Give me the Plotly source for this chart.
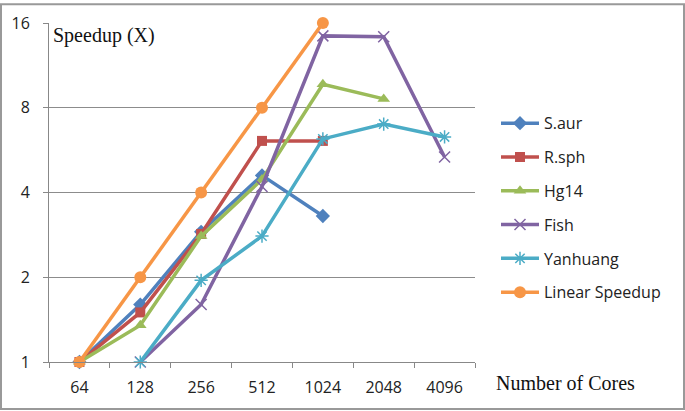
import math
import plotly.graph_objects as go

cores = ["64", "128", "256", "512", "1024", "2048", "4096"]
s_aur = [1, 1.6, 2.9, 4.6, 3.3, None, None]
r_sph = [1, 1.5, 2.85, 6.1, 6.1, None, None]
hg14 = [1, 1.35, 2.8, 4.45, 9.7, 8.6, None]
fish = [None, 1, 1.6, 4.2, 14.4, 14.3, 5.35]
yanhuang = [None, 1, 1.95, 2.8, 6.2, 7.0, 6.3]
linear = [1, 2, 4, 8, 16, None, None]
y_ticks = [1, 2, 4, 8, 16]

series = [
    ("S.aur", s_aur, "#4F81BD", "diamond", 11, 0),
    ("R.sph", r_sph, "#C0504D", "square", 10, 0),
    ("Hg14", hg14, "#9BBB59", "triangle-up", 11, 0),
    ("Fish", fish, "#8064A2", "x-thin-open", 11, 1.5),
    ("Yanhuang", yanhuang, "#4BACC6", "asterisk-open", 11, 1.5),
    ("Linear Speedup", linear, "#F79646", "circle", 12, 0),
]

fig = go.Figure()
for i, (name, vals, col, sym, sz, lw) in enumerate(series):
    fig.add_trace(go.Scatter(
        x=cores, y=vals, name=name, mode="lines+markers",
        line=dict(color=col, width=3.5),
        marker=dict(symbol=sym, size=sz, color=col, line=dict(color=col, width=lw)),
        cliponaxis=False, legendgroup=name,
    ))

W, H = 685, 411
ml, mr, mt, mb = 49, 210, 20, 49
pw, ph = W - ml - mr, H - mt - mb

def px(x):
    return (x - ml) / pw

def py(y):
    return 1 - (y - mt) / ph

serif = "Liberation Serif, Times New Roman, serif"

fig.update_layout(
    width=W, height=H,
    margin=dict(l=ml, r=mr, t=mt, b=mb),
    paper_bgcolor="white", plot_bgcolor="white",
    font=dict(family="Open Sans, Liberation Sans, sans-serif", size=16, color="#222"),
    showlegend=True,
    legend=dict(x=px(496), y=py(104), xanchor="left", yanchor="top",
                font=dict(size=16, color="#222"), tracegroupgap=10,
                itemwidth=38, bgcolor="rgba(0,0,0,0)"),
    xaxis=dict(type="category", showgrid=False, showline=True, linecolor="#888",
               linewidth=1, ticks="outside", tickson="boundaries", ticklen=5,
               tickcolor="#888", ticklabelstandoff=11, range=[-0.5, 6.5],
               tickfont=dict(size=16)),
    yaxis=dict(type="log", range=[0, math.log10(16)], tickvals=y_ticks,
               ticktext=[str(v) for v in y_ticks], showgrid=True,
               gridcolor="#8c8c8c", gridwidth=1, showline=True, linecolor="#888",
               linewidth=1, ticks="outside", ticklen=5, tickcolor="#888",
               ticklabelstandoff=10, zeroline=False, tickfont=dict(size=16)),
    annotations=[
        dict(text="Speedup (X)", xref="paper", yref="paper", x=px(51), y=py(33),
             xanchor="left", yanchor="middle", showarrow=False,
             font=dict(family=serif, size=20, color="#111")),
        dict(text="Number of Cores", xref="paper", yref="paper", x=px(494), y=py(383),
             xanchor="left", yanchor="middle", showarrow=False,
             font=dict(family=serif, size=20, color="#111")),
    ],
    shapes=[dict(type="rect", xref="paper", yref="paper",
                 x0=px(1), x1=px(684), y0=py(409.5), y1=py(1),
                 line=dict(color="#999", width=2), layer="below")],
)

fig.write_html("out.html", config={"displayModeBar": False},
               post_script="document.body.style.margin='0';document.body.style.overflow='hidden';")
